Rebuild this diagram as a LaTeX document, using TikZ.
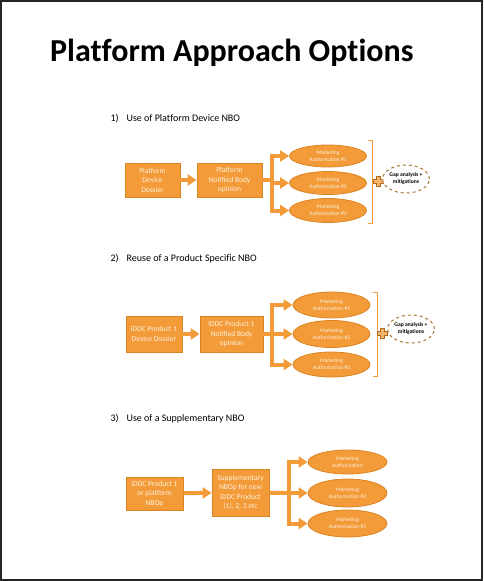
\documentclass[tikz,border=0pt]{standalone}
\usepackage{fontspec}
\setmainfont{Carlito}[Ligatures=NoCommon]
\usetikzlibrary{shapes.geometric,arrows.meta}
\definecolor{orfill}{HTML}{F29B38}
\definecolor{orline}{HTML}{DB8424}
\definecolor{ortext}{HTML}{FFF1E0}
\definecolor{gapline}{HTML}{A87431}
\begin{document}
\begin{tikzpicture}[x=1pt, y=-1pt,
	box/.style={draw=orline, fill=orfill, line width=0.8pt, text=ortext, align=center,
		inner sep=0pt, font=\fontsize{7.5}{9.5}\selectfont},
	ma/.style={ellipse, draw=orline, fill=orfill, line width=0.8pt, text=ortext, align=center,
		inner sep=0pt, minimum width=77pt, font=\fontsize{5.5}{7}\selectfont},
	gap/.style={ellipse, draw=gapline, dashed, line width=1pt, fill=white, align=center,
		inner sep=0pt, minimum width=42pt, minimum height=28pt, font=\bfseries\fontsize{5.6}{7}\selectfont},
	fatline/.style={draw=orfill, line width=4pt},
	fatarrow/.style={draw=orfill, fill=orfill, line width=4pt, -{Triangle[width=11pt,length=9pt]}},
	plussign/.style={fill=orfill!75, draw=orline!80!black, line width=0.6pt},
	bracket/.style={draw=orfill, line width=0.8pt},
	heading/.style={anchor=base west, font=\fontsize{10}{12}\selectfont}]
	\useasboundingbox (0,0) rectangle (483,581);
	%frame
	\draw[line width=1.6pt, black!85] (1,1) rectangle (482,580);

	%title
	\node[anchor=base west, inner sep=0pt, font=\bfseries\fontsize{32}{38}\selectfont] (title) at (50,61) {Platform Approach Options};

	%option 1
	\node[heading] (h1) at (107,121.5) {1)\hspace{8pt}Use of Platform Device NBO};
	\node[box, minimum width=55pt, minimum height=34pt] (dossier1) at (152.5,180) {Platform\\Device\\Dossier};
	\node[box, minimum width=65pt, minimum height=34pt] (nbo1) at (229.5,180) {Platform\\Notified Body\\opinion};
	\node[ma, minimum height=22pt] (ma11) at (328,156) {Marketing\\Authorisation \#1};
	\node[ma, minimum height=23pt] (ma12) at (328,183) {Marketing\\Authorisation \#2};
	\node[ma, minimum height=24pt] (ma13) at (328,210.5) {Marketing\\Authorisation \#3};
	\coordinate (j1) at (272,180);
	\draw[fatarrow] (dossier1) -- (nbo1);
	\draw[fatline] (nbo1) -- (j1);
	\draw[fatline, line cap=rect] (j1 |- ma11) -- (j1 |- ma13);
	\draw[fatarrow] (j1 |- ma11) -- (ma11);
	\draw[fatarrow] (j1 |- ma12) -- (ma12);
	\draw[fatarrow] (j1 |- ma13) -- (ma13);
	\draw[bracket] (368,140) -- (372,140) -- (372,223) -- (368,223);
	\draw[plussign, shift={(378,181)}] (-5,-1.8) -- (-1.8,-1.8) -- (-1.8,-5) -- (1.8,-5) -- (1.8,-1.8) -- (5,-1.8)
		-- (5,1.8) -- (1.8,1.8) -- (1.8,5) -- (-1.8,5) -- (-1.8,1.8) -- (-5,1.8) -- cycle;
	\node[gap] (gap1) at (406,179) {Gap analysis +\\mitigations};

	%option 2
	\node[heading] (h2) at (107,261.5) {2)\hspace{8pt}Reuse of a Product Specific NBO};
	\node[box, minimum width=56pt, minimum height=36pt] (dossier2) at (154,334) {iDDC Product 1\\Device Dossier};
	\node[box, minimum width=63pt, minimum height=36pt] (nbo2) at (231.5,334) {iDDC Product 1\\Notified Body\\opinion};
	\node[ma, minimum height=26pt] (ma21) at (331.5,305) {Marketing\\Authorisation \#1};
	\node[ma, minimum height=27pt] (ma22) at (331.5,334) {Marketing\\Authorisation \#2};
	\node[ma, minimum height=25pt] (ma23) at (331.5,364.5) {Marketing\\Authorisation \#3};
	\coordinate (j2) at (272,334);
	\draw[fatarrow] (dossier2) -- (nbo2);
	\draw[fatline] (nbo2) -- (j2);
	\draw[fatline, line cap=rect] (j2 |- ma21) -- (j2 |- ma23);
	\draw[fatarrow] (j2 |- ma21) -- (ma21);
	\draw[fatarrow] (j2 |- ma22) -- (ma22);
	\draw[fatarrow] (j2 |- ma23) -- (ma23);
	\draw[bracket] (373,292) -- (377,292) -- (377,376) -- (373,376);
	\draw[plussign, shift={(382,333)}] (-5,-1.8) -- (-1.8,-1.8) -- (-1.8,-5) -- (1.8,-5) -- (1.8,-1.8) -- (5,-1.8)
		-- (5,1.8) -- (1.8,1.8) -- (1.8,5) -- (-1.8,5) -- (-1.8,1.8) -- (-5,1.8) -- cycle;
	\node[gap] (gap2) at (411,329) {Gap analysis +\\mitigations};

	%option 3
	\node[heading] (h3) at (107,421.5) {3)\hspace{8pt}Use of a Supplementary NBO};
	\node[box, minimum width=57pt, minimum height=33pt] (nbop3) at (154.5,493.5) {iDDC Product 1\\or platform\\NBOp};
	\node[box, minimum width=57pt, minimum height=47pt] (supp3) at (240.5,492.5) {Supplementary\\NBOp for new\\iDDC Product\\(1), 2, 3 etc};
	\node[ma, minimum width=79pt, minimum height=24pt] (ma31) at (347.5,462) {Marketing\\Authorisation};
	\node[ma, minimum width=79pt, minimum height=28pt] (ma32) at (347.5,493) {Marketing\\Authorisation \#2};
	\node[ma, minimum width=79pt, minimum height=27pt] (ma33) at (347.5,523.5) {Marketing\\Authorisation \#3};
	\coordinate (j3) at (289,493);
	\draw[fatarrow] (nbop3) -- (supp3);
	\draw[fatline] (supp3) -- (j3);
	\draw[fatline, line cap=rect] (j3 |- ma31) -- (j3 |- ma33);
	\draw[fatarrow] (j3 |- ma31) -- (ma31);
	\draw[fatarrow] (j3 |- ma32) -- (ma32);
	\draw[fatarrow] (j3 |- ma33) -- (ma33);
\end{tikzpicture}
\end{document}
